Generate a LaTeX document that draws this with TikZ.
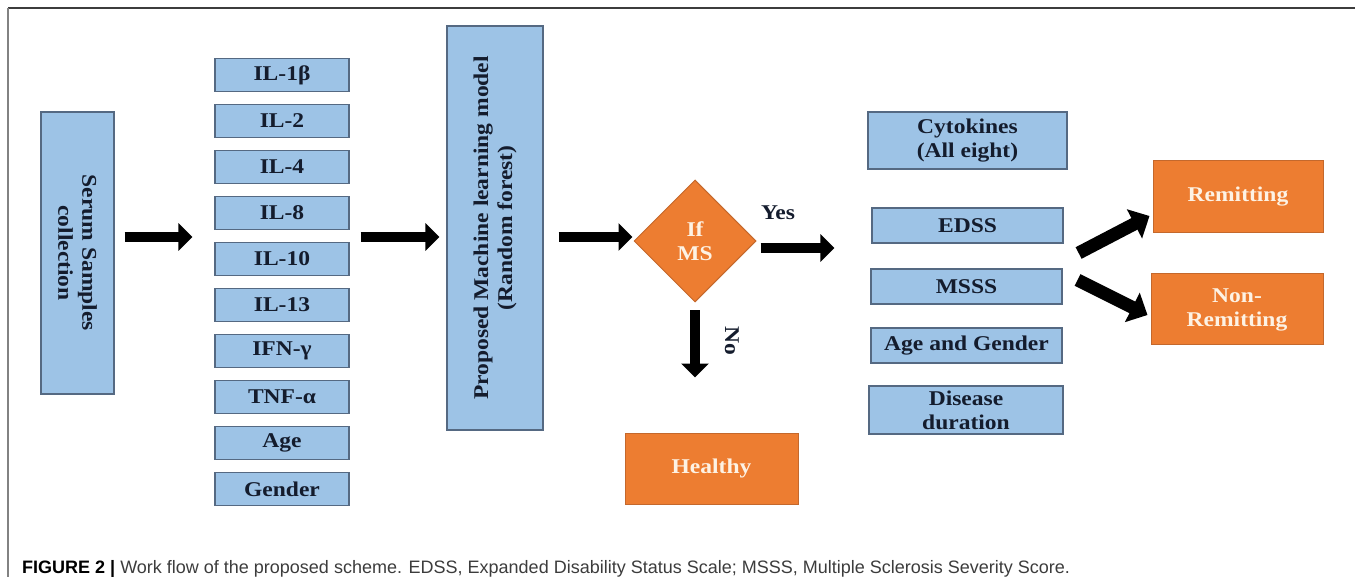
\documentclass[tikz,border=0pt]{standalone}
\usepackage{fontspec}
\setmainfont{Liberation Serif}[FakeStretch=1.12]
\newfontfamily\capfont{Liberation Sans}
\usetikzlibrary{shapes.geometric,arrows.meta}

\definecolor{boxblue}{RGB}{157,195,230}
\definecolor{boxedge}{RGB}{85,105,130}
\definecolor{boxtext}{RGB}{20,28,45}
\definecolor{msorange}{RGB}{237,125,49}
\definecolor{orangeedge}{RGB}{196,104,44}
\definecolor{cream}{RGB}{253,242,228}
\definecolor{capgrey}{RGB}{60,60,60}
\definecolor{framegrey}{RGB}{130,130,130}

\begin{document}
\begin{tikzpicture}[x=1pt,y=-1pt,
    boxfont/.style={font=\fontsize{21}{24}\selectfont\bfseries},
    bluebox/.style={draw=boxedge,line width=1.2pt,fill=boxblue,inner sep=0pt,align=center,text=boxtext,boxfont},
    orangebox/.style={draw=orangeedge,line width=1pt,fill=msorange,inner sep=0pt,align=center,text=cream,boxfont},
    fatarrow/.style={line width=10pt,-{Triangle[length=14pt,width=27pt]}},
    bentarrow/.style={line width=13pt,-{Triangle[length=17pt,width=32pt]}}]
    \useasboundingbox (0,0) rectangle (1355,577);

    % frame
    \draw[line width=2pt,capgrey] (8,8) -- (1355,8);
    \draw[line width=2pt,framegrey] (8,8) -- (8,577);

    % input side
    \node[bluebox,minimum width=282,minimum height=73,rotate=-90] (serum) at (77.5,253) {Serum Samples\\collection};
    \foreach \lab [count=\i from 0] in {IL-1β,IL-2,IL-4,IL-8,IL-10,IL-13,IFN-γ,TNF-α,Age,Gender}
        \node[bluebox,minimum width=134,minimum height=33] (il\i) at (282,75+46*\i) {\lab};
    \node[bluebox,minimum width=404,minimum height=96,rotate=90] (ml) at (495,228) {Proposed Machine learning model\\(Random forest)};

    % decision
    \node[diamond,draw=orangeedge,line width=1pt,fill=msorange,inner sep=0pt,minimum width=122,minimum height=122,align=center,text=cream,boxfont] (ifms) at (695,241) {If\\MS};
    \node[orangebox,minimum width=173,minimum height=71] (healthy) at (711.5,468.5) {Healthy};
    \node[boxfont,text=boxtext] (yeslab) at (778,213) {Yes};
    \node[boxfont,text=boxtext,rotate=-90] (nolab) at (732,341) {No};

    % MS side
    \node[bluebox,minimum width=199,minimum height=57] (cyto) at (967.5,140.5) {Cytokines\\(All eight)};
    \node[bluebox,minimum width=191,minimum height=35] (edss) at (967.5,225.5) {EDSS};
    \node[bluebox,minimum width=191,minimum height=35] (msss) at (966.5,286.5) {MSSS};
    \node[bluebox,minimum width=191,minimum height=35] (agegen) at (966.5,345.5) {Age and Gender};
    \node[bluebox,minimum width=194,minimum height=48] (disease) at (966,410) {Disease\\duration};
    \node[orangebox,minimum width=170,minimum height=72] (remit) at (1238,197) {Remitting};
    \node[orangebox,minimum width=172,minimum height=71] (nonremit) at (1237,309.5) {Non-\\Remitting};

    % arrows
    \coordinate (midrow) at (0,237);
    \draw[fatarrow] ([xshift=10]serum.north |- midrow) -- ([xshift=-22]il0.west |- midrow);
    \draw[fatarrow] ([xshift=11]il0.east |- midrow) -- ([xshift=-7]ml.north |- midrow);
    \draw[fatarrow] ([xshift=15]ml.south |- midrow) -- ([xshift=-1]ifms.west |- midrow);
    \draw[fatarrow] ([shift={(4,7)}]ifms.east) -- ([xshift=-37,yshift=-7]edss.west |- ifms.east);
    \draw[fatarrow] ([yshift=-8]ifms.south) -- ([yshift=55]ifms.south |- healthy.north);
    \draw[bentarrow] ([shift={(15,27.5)}]edss.east) -- ([shift={(-3,19)}]remit.west);
    \draw[bentarrow] ([shift={(15,-6.5)}]msss.east) -- ([shift={(-3,5.5)}]nonremit.west);

    % caption
    \node[anchor=base west,inner sep=0pt,text=capgrey,font=\capfont\fontsize{18}{21}\selectfont] (caption) at (22,573)
        {\textcolor{black}{\bfseries FIGURE 2 |} Work flow of the proposed scheme. EDSS, Expanded Disability Status Scale; MSSS, Multiple Sclerosis Severity Score.};
\end{tikzpicture}
\end{document}
